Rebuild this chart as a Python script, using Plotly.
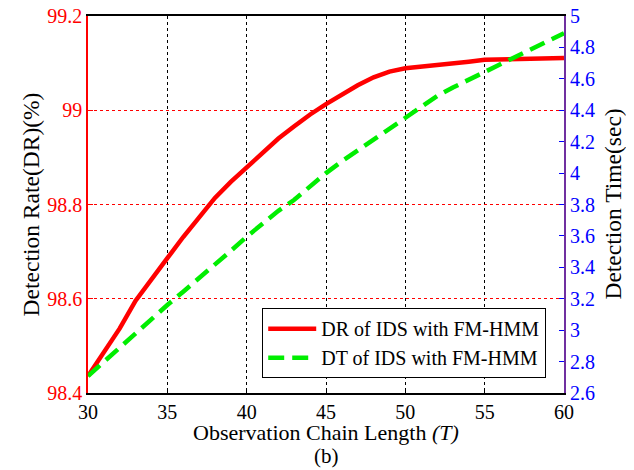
import plotly.graph_objects as go

T = list(range(30, 61))
dr = [98.436, 98.487, 98.537, 98.596, 98.643, 98.686, 98.731, 98.774, 98.814, 98.848,
      98.879, 98.910, 98.940, 98.966, 98.991, 99.013, 99.033, 99.053, 99.070, 99.082,
      99.089, 99.092, 99.095, 99.099, 99.103, 99.107, 99.108, 99.109, 99.110, 99.111, 99.111]
dt = [2.708, 2.80, 2.89, 2.985, 3.075, 3.16, 3.245, 3.33, 3.415, 3.505,
      3.595, 3.68, 3.76, 3.83, 3.915, 4.00, 4.075, 4.145, 4.215, 4.285,
      4.356, 4.42, 4.49, 4.545, 4.595, 4.645, 4.695, 4.745, 4.795, 4.845, 4.89]
x_ticks = [30, 35, 40, 45, 50, 55, 60]
y_ticks = [98.4, 98.6, 98.8, 99, 99.2]
y_tick_text = ["98.4", "98.6", "98.8", "99", "99.2"]
y2_ticks = [2.6, 2.8, 3, 3.2, 3.4, 3.6, 3.8, 4, 4.2, 4.4, 4.6, 4.8, 5]
y2_tick_text = ["2.6", "2.8", "3", "3.2", "3.4", "3.6", "3.8", "4", "4.2", "4.4", "4.6", "4.8", "5"]

FONT = "Liberation Serif, Times New Roman, serif"

fig = go.Figure()
fig.add_trace(go.Scatter(x=T, y=dr, mode="lines", name="DR of IDS with FM-HMM",
                         line=dict(color="#ff0000", width=4.5), yaxis="y"))
fig.add_trace(go.Scatter(x=T, y=dt, mode="lines", name="DT of IDS with FM-HMM",
                         line=dict(color="#00ee00", width=4.5, dash="16px,8px"), yaxis="y2"))

# page body adds an 8px offset, so the figure is 8px smaller and margins shifted
fig.update_layout(
    width=626, height=462,
    margin=dict(l=80, r=70, t=8, b=77, autoexpand=False),
    paper_bgcolor="white", plot_bgcolor="white",
    font=dict(family=FONT, size=20, color="black"),
    showlegend=True,
    legend=dict(x=0.366, y=0.225, xanchor="left", yanchor="top",
                bordercolor="black", borderwidth=1, bgcolor="white",
                font=dict(family=FONT, size=20, color="black"),
                tracegroupgap=0, itemwidth=48),
    xaxis=dict(range=[30, 60], tickvals=x_ticks, showline=True, linecolor="black",
               linewidth=1.5, mirror=True, ticks="inside", ticklen=5, tickcolor="black",
               showgrid=True, gridcolor="black", griddash="dot", gridwidth=1,
               zeroline=False, automargin=False, ticklabeloverflow="allow",
               tickfont=dict(family=FONT, size=20, color="black")),
    yaxis=dict(range=[98.4, 99.2], tickvals=y_ticks, ticktext=y_tick_text,
               showline=True, linecolor="#ff0000", linewidth=1.5,
               ticks="inside", ticklen=5, tickcolor="#ff0000",
               showgrid=True, gridcolor="#ff0000", griddash="dot", gridwidth=1,
               zeroline=False, automargin=False, ticklabeloverflow="allow",
               tickfont=dict(family=FONT, size=20, color="#ff0000")),
    yaxis2=dict(range=[2.6, 5], tickvals=y2_ticks, ticktext=y2_tick_text,
                overlaying="y", side="right", anchor="x",
                showline=True, linecolor="#7030a0", linewidth=2,
                ticks="inside", ticklen=5, tickcolor="#0000ff",
                showgrid=False, zeroline=False, automargin=False,
                ticklabeloverflow="allow",
                tickfont=dict(family=FONT, size=20, color="#0000ff")),
    annotations=[
        dict(text="Observation Chain Length <i>(T)</i>", x=0.5, y=-0.104,
             xref="paper", yref="paper", xanchor="center", yanchor="middle",
             showarrow=False, font=dict(family=FONT, size=22, color="black")),
        dict(text="(b)", x=0.5, y=-0.166, xref="paper", yref="paper",
             xanchor="center", yanchor="middle", showarrow=False,
             font=dict(family=FONT, size=21, color="black")),
        dict(text="Detection Rate(DR)(%)", x=-0.12, y=0.5, xref="paper", yref="paper",
             xanchor="center", yanchor="middle", textangle=-90, showarrow=False,
             font=dict(family=FONT, size=23.5, color="black")),
        dict(text="Detection Time(sec)", x=1.101, y=0.5, xref="paper", yref="paper",
             xanchor="center", yanchor="middle", textangle=-90, showarrow=False,
             font=dict(family=FONT, size=23.5, color="black")),
    ],
)

fig.write_html("out.html")
